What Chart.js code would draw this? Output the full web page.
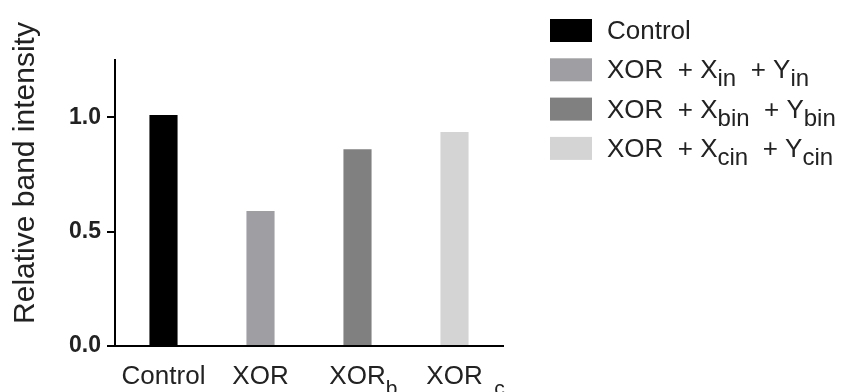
<!DOCTYPE html>
<html>
<head>
<meta charset="utf-8">
<script src="https://cdn.jsdelivr.net/npm/chart.js@4.4.1/dist/chart.umd.min.js"></script>
<style>
  html, body { margin: 0; padding: 0; background: #ffffff; }
  #wrap { width: 845px; height: 392px; position: relative; }
</style>
</head>
<body>
<div id="wrap"><canvas id="c" width="845" height="392"></canvas></div>
<script>
// Categories on the x axis ("_{...}" marks a subscript)
const categories = ['Control', 'XOR', 'XOR_{b}', 'XOR_{  c}'];
// Legend entries, one per bar
const seriesNames = ['Control', 'XOR  + X_{in}  + Y_{in}', 'XOR  + X_{bin}  + Y_{bin}', 'XOR  + X_{cin}  + Y_{cin}'];
// Relative band intensity per condition
const bandIntensity = [1.01, 0.59, 0.86, 0.935];
const barColors = ['#000000', '#9f9fa3', '#808080', '#d4d4d4'];
// Y axis tick values
const yTickValues = [0, 0.5, 1.0];
const yTitle = 'Relative band intensity';

const FONT = '"Liberation Sans", Arial, Helvetica, sans-serif';
const TEXT = '#222222';

function parseRich(s) {
  const parts = [];
  const re = /_\{([^}]*)\}/g;
  let last = 0, m;
  while ((m = re.exec(s))) {
    if (m.index > last) parts.push({ t: s.slice(last, m.index), sub: false });
    parts.push({ t: m[1], sub: true });
    last = re.lastIndex;
  }
  if (last < s.length) parts.push({ t: s.slice(last), sub: false });
  return parts;
}

// Draws text with subscripts; optionally centres the leading run on x
function drawRich(ctx, s, x, y, size, subSize, subDrop, centerFirst) {
  const parts = parseRich(s);
  let cx = x;
  if (centerFirst) {
    ctx.font = size + 'px ' + FONT;
    cx = x - ctx.measureText(parts[0].t).width / 2;
  }
  for (const p of parts) {
    ctx.font = (p.sub ? subSize : size) + 'px ' + FONT;
    ctx.fillText(p.t, cx, y + (p.sub ? subDrop : 0));
    cx += ctx.measureText(p.t).width;
  }
}

const annotations = {
  id: 'richText',
  afterDraw(chart) {
    const ctx = chart.ctx;
    const xs = chart.scales.x;
    ctx.save();
    ctx.fillStyle = TEXT;
    ctx.textAlign = 'left';
    ctx.textBaseline = 'alphabetic';

    // category labels under the bars
    categories.forEach((c, i) => {
      drawRich(ctx, c, xs.getPixelForTick(i), 384, 26, 21, 11, true);
    });

    // legend
    const ds = chart.data.datasets[0];
    seriesNames.forEach((name, i) => {
      const top = 19 + i * 39.3;
      ctx.fillStyle = ds.backgroundColor[i];
      ctx.fillRect(550, top, 42, 23);
      ctx.fillStyle = TEXT;
      drawRich(ctx, name, 607, top + 20, 26, 24, 8, false);
    });

    // y axis title
    ctx.translate(26, 173);
    ctx.rotate(-Math.PI / 2);
    ctx.textAlign = 'center';
    ctx.textBaseline = 'middle';
    ctx.font = '30px ' + FONT;
    ctx.fillText(yTitle, 0, 0);
    ctx.restore();
  }
};

new Chart(document.getElementById('c'), {
  type: 'bar',
  data: {
    labels: categories,
    datasets: [{
      data: bandIntensity,
      backgroundColor: barColors,
      borderWidth: 0,
      categoryPercentage: 1,
      barPercentage: 0.29
    }]
  },
  options: {
    responsive: false,
    animation: false,
    devicePixelRatio: 1,
    layout: { padding: { top: 60, right: 342, bottom: 0, left: 0 } },
    plugins: { legend: { display: false }, tooltip: { enabled: false } },
    scales: {
      x: {
        afterFit(s) { s.height = 46; },
        ticks: { display: false },
        grid: { display: false },
        border: { color: '#000000', width: 2 }
      },
      y: {
        min: 0,
        max: 1.25,
        afterFit(s) { s.width = 115; },
        afterBuildTicks(s) { s.ticks = yTickValues.map(v => ({ value: v })); },
        ticks: {
          callback: v => Number(v).toFixed(1),
          font: { family: FONT, size: 23, weight: 'bold' },
          color: TEXT,
          padding: 6
        },
        grid: { drawOnChartArea: false, color: '#000000', lineWidth: 2, tickLength: 8 },
        border: { color: '#000000', width: 2 }
      }
    }
  },
  plugins: [annotations]
});
</script>
</body>
</html>
